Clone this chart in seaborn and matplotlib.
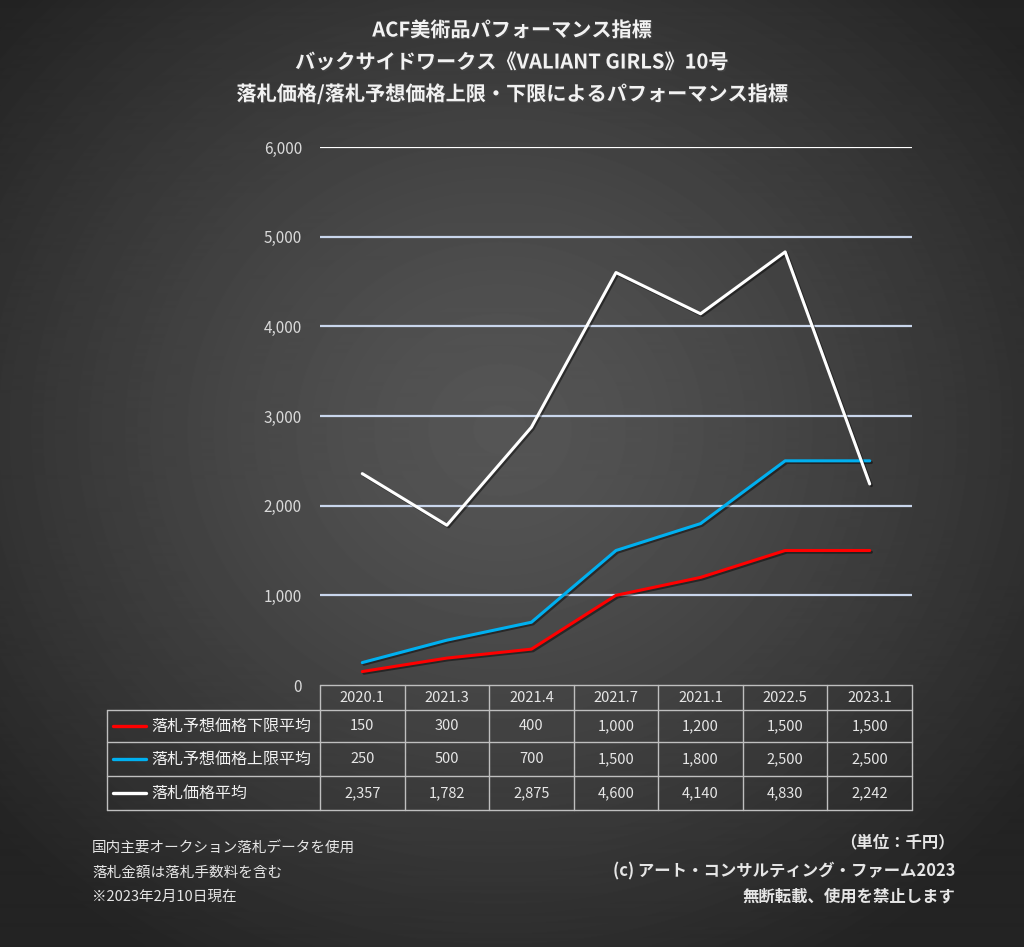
"""
ACF美術品パフォーマンス指標 - バックサイドワークス《VALIANT GIRLS》10号
"""

import numpy as np
import pandas as pd
import matplotlib.pyplot as plt
import matplotlib.patheffects as pe
import matplotlib.transforms as mtrans
from matplotlib.lines import Line2D
import seaborn as sns

sns.set_theme(style="dark")
plt.rcParams["font.family"] = ["Noto Sans CJK JP", "DejaVu Sans"]

# データ（単位：千円）
dates = ["2020.1", "2021.3", "2021.4", "2021.7", "2021.1", "2022.5", "2023.1"]
lower_avg = [150, 300, 400, 1000, 1200, 1500, 1500]
upper_avg = [250, 500, 700, 1500, 1800, 2500, 2500]
price_avg = [2357, 1782, 2875, 4600, 4140, 4830, 2242]

series_names = ["落札予想価格下限平均", "落札予想価格上限平均", "落札価格平均"]
series_colors = ["#ff0000", "#00b0f0", "#ffffff"]
y_ticks = [0, 1000, 2000, 3000, 4000, 5000, 6000]

title_lines = [
    "ACF美術品パフォーマンス指標",
    "バックサイドワークス《VALIANT GIRLS》10号",
    "落札価格/落札予想価格上限・下限によるパフォーマンス指標",
]
notes_left = ["国内主要オークション落札データを使用", "落札金額は落札手数料を含む", "※2023年2月10日現在"]
notes_right = ["（単位：千円）", "(c) アート・コンサルティング・ファーム2023", "無断転載、使用を禁止します"]

W, H = 1024, 947
fig = plt.figure(figsize=(W / 100, H / 100), dpi=100)

# 背景（放射グラデーション）
bg = fig.add_axes([0, 0, 1, 1], zorder=-10)
yy, xx = np.mgrid[0:H, 0:W]
r = np.sqrt(((xx - 500) / 650) ** 2 + ((yy - 430) / 600) ** 2)
shade = np.clip(0.335 - 0.19 * r ** 1.3, 0.14, 0.34)
bg.imshow(shade, cmap="gray", vmin=0, vmax=1, aspect="auto", extent=[0, 1, 0, 1])
bg.axis("off")

# プロット領域
left, right, top, bottom = 320, 912, 147, 685
ax = fig.add_axes([left / W, 1 - bottom / H, (right - left) / W, (bottom - top) / H])
ax.set_facecolor("none")

df = pd.DataFrame({
    "date": dates * 3,
    "value": lower_avg + upper_avg + price_avg,
    "series": [s for s in series_names for _ in dates],
})

shadow = [pe.SimpleLineShadow(offset=(1.2, -1.2), shadow_color="black", alpha=0.45), pe.Normal()]

# グリッド線
for t in y_ticks[1:]:
    ax.axhline(t, color="#ffffff" if t == 6000 else "#c9d6ec", lw=1.6, zorder=1)

sns.lineplot(data=df, x="date", y="value", hue="series", hue_order=series_names,
             palette=series_colors, sort=False, lw=2.2, legend=False, ax=ax,
             path_effects=shadow, zorder=3)

ax.set_xlim(-0.5, len(dates) - 0.5)
ax.set_ylim(0, 6000)
ax.set_yticks(y_ticks)
ax.set_yticklabels([f"{t:,}" for t in y_ticks], color="#d9d9d9", fontsize=11)
ax.tick_params(axis="y", length=0, pad=13)
ax.set_xticks([])
ax.set_xlabel("")
ax.set_ylabel("")
ax.grid(False)
for sp in ax.spines.values():
    sp.set_visible(False)

# データテーブル（x はカテゴリ位置、y はピクセルから換算した軸座標）
ax_h = bottom - top
def ay(px):
    return -(px - bottom) / ax_h

tr = mtrans.blended_transform_factory(ax.transData, ax.transAxes)
label_x0 = (107 - left) / (right - left)   # 軸座標
edge = dict(color="#bfbfbf", lw=1.0, clip_on=False)
row_edges = [685, 710, 742, 776, 810]
n = len(dates)

# 横線
ax.plot([-0.5, n - 0.5], [ay(row_edges[0])] * 2, transform=tr, **edge)
for y in row_edges[1:]:
    ax.add_line(Line2D([label_x0, 1], [ay(y)] * 2, transform=ax.transAxes, **edge))
# 縦線
for i in range(n + 1):
    ax.plot([i - 0.5, i - 0.5], [ay(row_edges[0]), ay(row_edges[-1])], transform=tr, **edge)
ax.add_line(Line2D([label_x0, label_x0], [ay(row_edges[1]), ay(row_edges[-1])],
                   transform=ax.transAxes, **edge))

# 見出し
for i, d in enumerate(dates):
    ax.text(i, ay((row_edges[0] + row_edges[1]) / 2), d, transform=tr, ha="center",
            va="center", color="#e6e6e6", fontsize=10.5)
# 行
for r_i, (name, color, vals) in enumerate(zip(series_names, series_colors,
                                                (lower_avg, upper_avg, price_avg))):
    yc = ay((row_edges[r_i + 1] + row_edges[r_i + 2]) / 2)
    ax.add_line(Line2D([(113 - left) / (right - left), (146 - left) / (right - left)],
                       [yc, yc], transform=ax.transAxes, color=color, lw=2.4, clip_on=False))
    ax.text((151 - left) / (right - left), yc, name, transform=ax.transAxes, ha="left",
            va="center", color="#f2f2f2", fontsize=11.5)
    for i, v in enumerate(vals):
        ax.text(i, yc, f"{v:,}", transform=tr, ha="center", va="center",
                color="#e6e6e6", fontsize=10.5)

# タイトル
for i, t in enumerate(title_lines):
    fig.text(0.5, 1 - (30 + 32 * i) / H, t, ha="center", va="center",
             color="#f2f2f2", fontsize=14.5, fontweight="bold",
             path_effects=[pe.withSimplePatchShadow(offset=(1, -1), alpha=0.6)])

# 注記
for i, t in enumerate(notes_left):
    fig.text(92 / W, 1 - (849 + 24 * i) / H, t, ha="left", va="center",
             color="#e6e6e6", fontsize=10.5)
for t, y in zip(notes_right, [842, 871, 897]):
    fig.text(955 / W, 1 - y / H, t, ha="right", va="center",
             color="#e6e6e6", fontsize=11.8, fontweight="bold")

fig.savefig("out.png", dpi=100)
